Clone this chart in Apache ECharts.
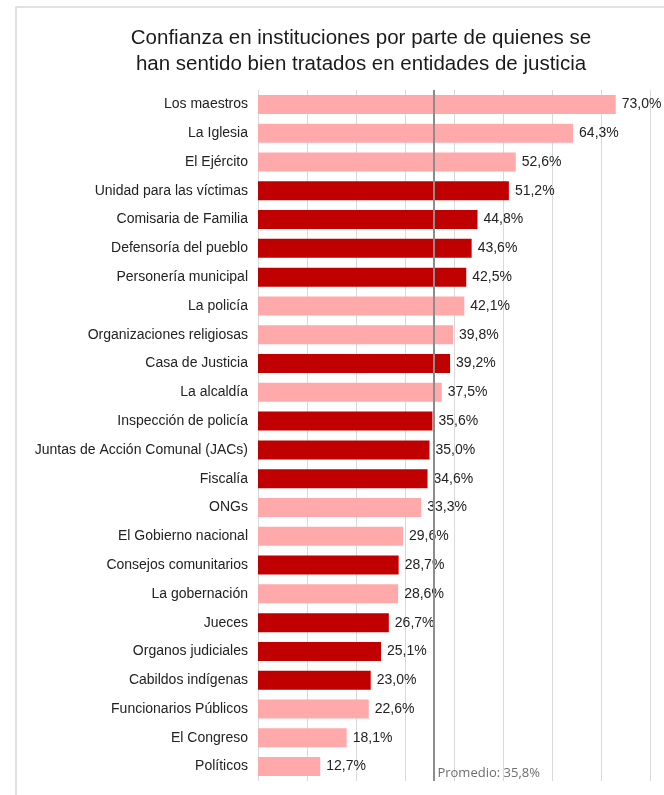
<!DOCTYPE html>
<html>
<head>
<meta charset="utf-8">
<script src="https://cdn.jsdelivr.net/npm/echarts@6/dist/echarts.min.js"></script>
<style>
html,body{margin:0;padding:0;background:#fff;}
#c{width:664px;height:795px;}
</style>
</head>
<body>
<div id="c"></div>
<script>
var categories = [
  "Los maestros","La Iglesia","El Ejército","Unidad para las víctimas","Comisaria de Familia",
  "Defensoría del pueblo","Personería municipal","La policía","Organizaciones religiosas",
  "Casa de Justicia","La alcaldía","Inspección de policía","Juntas de Acción Comunal (JACs)",
  "Fiscalía","ONGs","El Gobierno nacional","Consejos comunitarios","La gobernación","Jueces",
  "Organos judiciales","Cabildos indígenas","Funcionarios Públicos","El Congreso","Políticos"
];
var values = [73.0,64.3,52.6,51.2,44.8,43.6,42.5,42.1,39.8,39.2,37.5,35.6,35.0,34.6,33.3,29.6,28.7,28.6,26.7,25.1,23.0,22.6,18.1,12.7];
// 1 = justice entity (dark red), 0 = other institution (light pink)
var isJustice = [0,0,0,1,1,1,1,0,0,1,0,1,1,1,0,0,1,0,1,1,1,0,0,0];
var meanValue = 35.8;
var meanLabel = "Promedio: 35,8%";
var xTicks = [0,10,20,30,40,50,60,70,80];
var titleLines = ["Confianza en instituciones por parte de quienes se","han sentido bien tratados en entidades de justicia"];

var LIGHT = "#ffa9ab", DARK = "#c00000";
var chart = echarts.init(document.getElementById('c'));
var data = values.map(function(v,i){
  return {value:v, itemStyle:{color: isJustice[i] ? DARK : LIGHT}};
});
var option = {
  animation:false,
  title:{
    text: titleLines.join("\n"),
    left: 356, top: 20, textAlign:'center',
    textStyle:{fontFamily:'Liberation Sans, Arial, sans-serif', fontSize:20.5, fontWeight:'normal', color:'#1a1a1a', lineHeight:26}
  },
  grid:{left:258, right:14, top:90, bottom:14, containLabel:false},
  xAxis:{
    type:'value', min:xTicks[0], max:xTicks[xTicks.length-1], interval:10,
    axisLabel:{show:false}, axisTick:{show:false}, axisLine:{show:false},
    splitLine:{show:true, lineStyle:{color:'#d9d9d9', width:1}}
  },
  yAxis:{
    type:'category', inverse:true, data:categories,
    axisTick:{show:false}, axisLine:{show:false},
    axisLabel:{margin:10, fontFamily:'Liberation Sans, Arial, sans-serif', fontSize:14, color:'#222'}
  },
  series:[{
    type:'bar', data:data, barCategoryGap:'34%',
    label:{show:true, position:'right', distance:6, fontFamily:'Liberation Sans, Arial, sans-serif', fontSize:14, color:'#222',
      formatter:function(p){return p.value.toFixed(1).replace('.',',')+'%';}},
    markLine:{
      symbol:'none', silent:true, label:{show:false},
      lineStyle:{color:'#8c8c8c', width:2, type:'solid'},
      data:[{xAxis:meanValue}]
    }
  }]
};
chart.setOption(option);
var px = chart.convertToPixel({gridIndex:0}, [meanValue, categories[categories.length-1]]);
chart.setOption({
  graphic:[
    {type:'polyline', shape:{points:[[16,795],[16,7],[664,7]]}, style:{stroke:'#d9d9d9', lineWidth:1.5, fill:null}, silent:true},
    {type:'text', left: px[0]+4, bottom: 15, style:{text: meanLabel, fill:'#6e6e6e', font:'13px "Open Sans", sans-serif'}, silent:true}
  ]
});
</script>
</body>
</html>
